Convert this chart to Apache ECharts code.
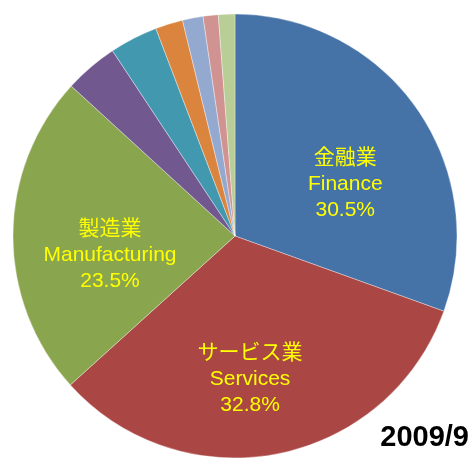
<!DOCTYPE html>
<html>
<head>
<meta charset="utf-8">
<script src="https://cdn.jsdelivr.net/npm/echarts@6/dist/echarts.min.js"></script>
<style>
  html, body { margin: 0; padding: 0; background: #fff; }
  #pie { width: 473px; height: 458px; }
</style>
</head>
<body>
<div id="pie"></div>
<script>
// 業種別シェア 2009/9
var namesJa = ['金融業', 'サービス業', '製造業', '', '', '', '', '', ''];
var namesEn = ['Finance', 'Services', 'Manufacturing', '', '', '', '', '', ''];
var shares = [30.5, 32.8, 23.5, 3.9, 3.5, 2.0, 1.5, 1.1, 1.2];
var colors = ['#4572A7', '#AA4643', '#89A54E', '#71588F', '#4198AF', '#DB843D', '#93A9CF', '#D19392', '#B9CD96'];
var dateLabel = '2009/9';

// ラベル位置の微調整
var labelOffsets = [[17, 14], [-7, 31], [-11, 20]];

var myChart = echarts.init(document.getElementById('pie'));

var pieData = shares.map(function (v, i) {
    var item = {
        name: namesEn[i] || ('other' + i),
        value: v,
        itemStyle: { color: colors[i] }
    };
    if (namesEn[i]) {
        item.label = {
            show: true,
            position: 'inside',
            offset: labelOffsets[i],
            formatter: namesJa[i] + '\n' + namesEn[i] + '\n' + v.toFixed(1) + '%'
        };
    } else {
        item.label = { show: false };
    }
    return item;
});

var option = {
    animation: false,
    graphic: [{
        type: 'text',
        right: 4,
        top: 423,
        style: {
            text: dateLabel,
            fill: '#000',
            font: 'bold 29px "Liberation Sans", Arial, sans-serif'
        }
    }],
    series: [{
        type: 'pie',
        center: [235, 236],
        radius: 222,
        startAngle: 90,
        clockwise: true,
        avoidLabelOverlap: false,
        emphasis: { disabled: true },
        itemStyle: { borderColor: 'rgba(255,255,255,0.6)', borderWidth: 0.6 },
        label: {
            color: '#FFFF00',
            fontSize: 21,
            lineHeight: 26,
            fontFamily: '"Liberation Sans", Arial, "Noto Sans CJK JP", sans-serif',
            align: 'center'
        },
        labelLine: { show: false },
        data: pieData
    }]
};

myChart.setOption(option);
</script>
</body>
</html>
